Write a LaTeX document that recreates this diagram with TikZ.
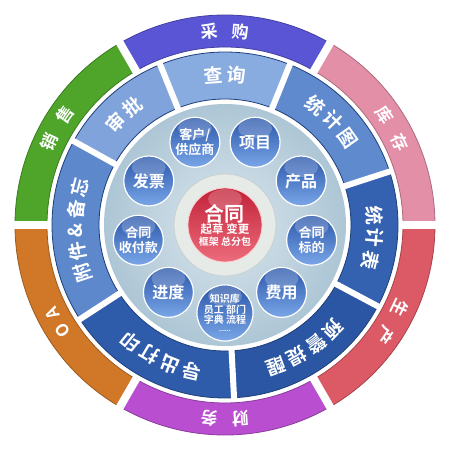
\documentclass[tikz,border=0pt]{standalone}
\usepackage{fontspec}
\setmainfont{Noto Sans CJK SC}[BoldFont={* Bold}]
\definecolor{cgPur}{HTML}{5A55D4}
\definecolor{cgPink}{HTML}{E48FA8}
\definecolor{cgRed}{HTML}{DB5A66}
\definecolor{cgMag}{HTML}{B94FD0}
\definecolor{cgOra}{HTML}{D07828}
\definecolor{cgGre}{HTML}{4EA52A}
\definecolor{bA}{HTML}{88ACE0}
\definecolor{bB}{HTML}{5F8ACD}
\definecolor{bC}{HTML}{3461B0}
\definecolor{bD}{HTML}{2B56A3}
\definecolor{bE}{HTML}{2E5BAA}
\definecolor{bF}{HTML}{5D88CB}
\definecolor{bG}{HTML}{7FA3DA}
\definecolor{bEdge}{HTML}{1F3F7A}
\definecolor{discIn}{HTML}{DAE6ED}
\definecolor{discOut}{HTML}{ADC6D5}
\definecolor{ringGray}{HTML}{E6EBE8}
\definecolor{ringEdge}{HTML}{C6D1D0}
\definecolor{scTop}{HTML}{2A56AA}
\definecolor{scBot}{HTML}{7AA6E8}
\definecolor{rcTop}{HTML}{C22238}
\definecolor{rcBot}{HTML}{EC6C7C}
\newcommand\ringseg[5]{%
  \path[#1] (#2:#4pt) arc[start angle=#2, end angle=#3, radius=#4pt]
    -- (#3:#5pt) arc[start angle=#3, end angle=#2, radius=#5pt] -- cycle;}
% style, mid angle, radius, step (deg), count, chars, name
\newcommand\arctext[7]{%
  \foreach \ch [count=\i] in {#6}{%
    \pgfmathsetmacro\ang{#2+((#5+1)/2-\i)*#4}%
    \pgfmathsetmacro\rot{\ang-90}%
    \node[#1, rotate=\rot] (#7-\i) at (\ang:#3pt) {\ch};
  }}
\tikzset{
  outerlbl/.style={text=white, font=\bfseries\fontsize{17}{17}\selectfont, inner sep=0pt},
  bluelbl/.style={text=white, font=\bfseries\fontsize{19}{19}\selectfont, inner sep=0pt},
  gloss/.style={path picture={\fill[white, opacity=0.22]
      ([yshift=-11pt]path picture bounding box.north) ellipse[x radius=17pt, y radius=10pt];}},
  smallc/.style={circle, minimum size=50pt, inner sep=0pt, top color=scTop, bottom color=scBot,
      draw=white, line width=1.2pt, text=white, align=center, gloss,
      font=\bfseries\fontsize{16}{17}\selectfont},
  smalltxt/.style={font=\bfseries\fontsize{13}{15}\selectfont},
  tinytxt/.style={font=\bfseries\fontsize{10}{10.5}\selectfont},
  redc/.style={circle, minimum size=74pt, inner sep=0pt, top color=rcTop, bottom color=rcBot,
      draw=white!80!red, line width=0.8pt, text=white, align=center, font=\bfseries}
}
\begin{document}
\begin{tikzpicture}[x=1pt,y=1pt]
\useasboundingbox (-225,-225) rectangle (225,225);
\fill[white] (-225,-225) rectangle (225,225);
% outer ring
\foreach \m/\c in {90/cgPur, 30/cgPink, -30/cgRed, -90/cgMag, -150/cgOra, 150/cgGre}{
  \pgfmathsetmacro\aa{\m-30}\pgfmathsetmacro\bb{\m+30}
  \ringseg{fill=\c, draw=\c!75!black, line width=0.8pt}{\aa}{\bb}{178}{210}
}
\foreach \b in {0,60,120,180,240,300}{
  \draw[white, line width=8pt] (\b:174pt) -- (\b:214pt);
}
\arctext{outerlbl}{90}{194}{9.3}{2}{采,购}{o1}
\arctext{outerlbl}{30}{194}{9.3}{2}{库,存}{o2}
\arctext{outerlbl}{-30}{194}{9.3}{2}{生,产}{o3}
\arctext{outerlbl}{-90}{194}{9.3}{2}{财,务}{o4}
\arctext{outerlbl}{-150}{194}{6}{2}{O,A}{o5}
\arctext{outerlbl}{150}{194}{9.3}{2}{销,售}{o6}
% blue ring
\ringseg{fill=bA, draw=bEdge, line width=0.8pt}{68}{112}{126}{173}
\ringseg{fill=bB, draw=bEdge, line width=0.8pt}{18}{68}{126}{173}
\ringseg{fill=bC, draw=bEdge, line width=0.8pt}{-28}{18}{126}{173}
\ringseg{fill=bD, draw=bEdge, line width=0.8pt}{-87}{-28}{126}{173}
\ringseg{fill=bE, draw=bEdge, line width=0.8pt}{-147}{-87}{126}{173}
\ringseg{fill=bF, draw=bEdge, line width=0.8pt}{151}{213}{126}{173}
\ringseg{fill=bG, draw=bEdge, line width=0.8pt}{112}{151}{126}{173}
\foreach \b in {112,68,18,-28,-87,-147,151}{
  \draw[white, line width=6pt] (\b:123pt) -- (\b:176pt);
}
\arctext{bluelbl}{90}{150}{8.9}{2}{查,询}{b1}
\arctext{bluelbl}{44}{150}{8.7}{3}{统,计,图}{b2}
\arctext{bluelbl}{-5}{150}{8.7}{3}{统,计,表}{b3}
\arctext{bluelbl}{-57}{150}{8.7}{4}{预,警,提,醒}{b4}
\arctext{bluelbl}{-116}{150}{8.7}{4}{导,出,打,印}{b5}
\arctext{bluelbl}{182}{150}{8.2}{5}{附,件,\&,备,忘}{b6}
\arctext{bluelbl}{132.5}{150}{8.9}{2}{审,批}{b7}
% disc
\shade[inner color=discIn, outer color=discOut] (0,0) circle[radius=121pt];
% gray ring
\fill[ringGray] (0,0) circle[radius=51pt];
\draw[ringEdge, line width=0.8pt] (0,0) circle[radius=51pt];
% small circles
\node[smallc, smalltxt] (c1) at (110:88pt) {客户/\\供应商};
\node[smallc] (c2) at (70:88pt)  {项目};
\node[smallc] (c3) at (30:88pt)  {产品};
\node[smallc, smalltxt] (c4) at (-10:88pt) {合同\\标的};
\node[smallc] (c5) at (-50:88pt) {费用};
\node[smallc, tinytxt] (c6) at (-90:88pt) {知识库\\员工 部门\\字典 流程\\[-3pt]\fontsize{6}{6}\selectfont ......};
\node[smallc] (c7) at (-130:88pt) {进度};
\node[smallc, smalltxt] (c8) at (-170:88pt) {合同\\收付款};
\node[smallc] (c9) at (150:88pt) {发票};
% center
\node[redc, gloss] (center) at (0,0) {\fontsize{20}{22}\selectfont 合同\\[0pt]\fontsize{11.5}{12.5}\selectfont 起草 变更\\框架 总分包};
\end{tikzpicture}
\end{document}
